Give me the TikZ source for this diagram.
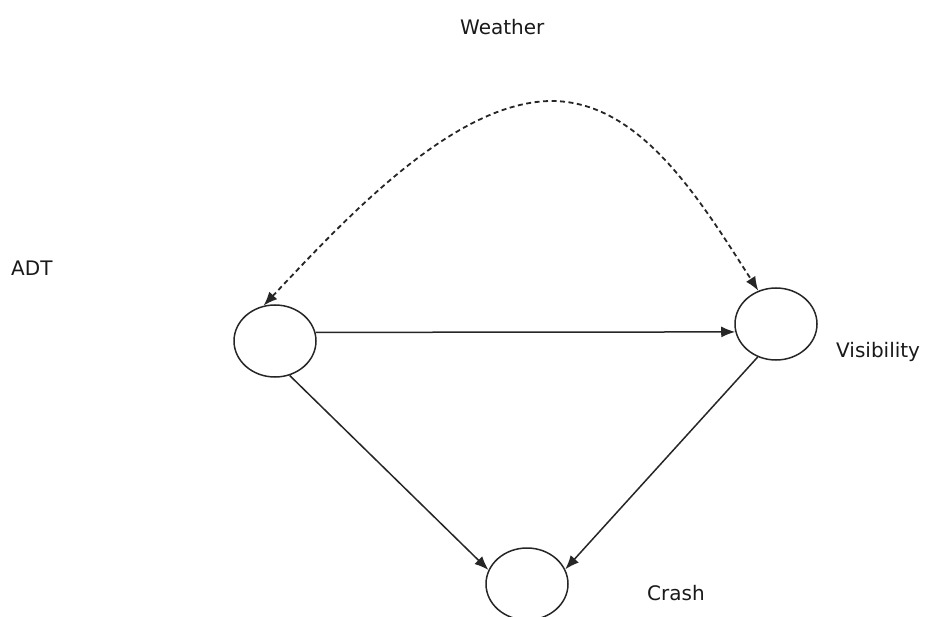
\documentclass[tikz,border=0pt]{standalone}
\usepackage{fontspec}
\setmainfont{DejaVu Sans}
\usetikzlibrary{shapes.geometric,arrows.meta}
\tikzset{
  varnode/.style={draw=black!85, line width=1.5pt, ellipse, minimum width=82pt, minimum height=72pt, inner sep=0pt},
  lbl/.style={anchor=base west, inner sep=0pt, font=\fontsize{20}{24}\selectfont, text=black!90},
  edge/.style={draw=black!85, line width=1.5pt, -{Latex[length=14pt,width=11pt]}},
  dedge/.style={draw=black!85, line width=1.8pt, dash pattern=on 5pt off 3.5pt, {Latex[length=14pt,width=11pt]}-{Latex[length=14pt,width=11pt]}}
}
\begin{document}
\begin{tikzpicture}[x=1pt,y=-1pt]
\useasboundingbox (0,0) rectangle (925,617);
\clip (0,0) rectangle (925,617);
\node[varnode] (adt) at (275,341) {};
\node[varnode] (vis) at (776,324) {};
\node[varnode] (crash) at (527,584) {};
\node[lbl] (tweather) at (460,35) {Weather};
\node[lbl] (tadt) at (11,276) {ADT};
\node[lbl] (tvis) at (836,357) {Visibility};
\node[lbl] (tcrash) at (647,600) {Crash};
\coordinate (peak) at (550,101);
\draw[edge] (adt.12.8) -- (vis.191.3);
\draw[edge] (adt.-67.4) -- (crash.160);
\draw[edge] (vis.241.5) -- (crash.21.5);
\draw[dedge] (adt.108.4) .. controls (340,225) and (450,103) .. (peak) .. controls (640,100) and (700,200) .. (vis.118.5);
\end{tikzpicture}
\end{document}
